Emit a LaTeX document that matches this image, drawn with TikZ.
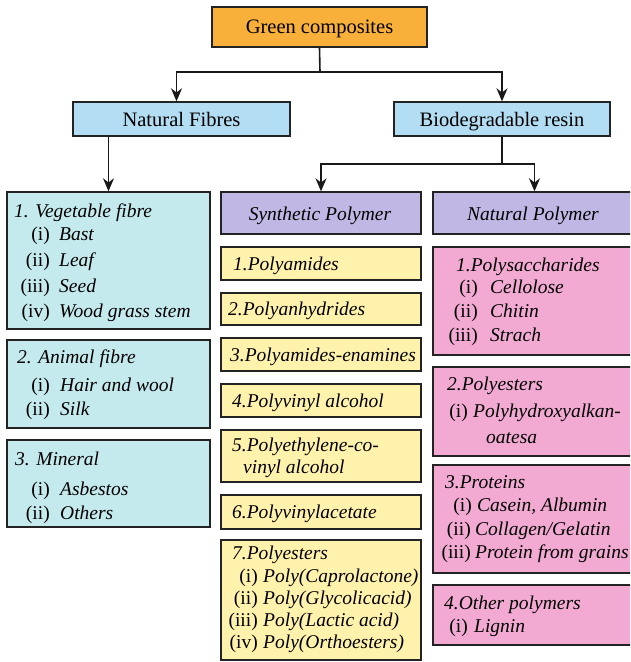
\documentclass[tikz,border=0pt]{standalone}
\usepackage{fontspec}
\setmainfont{Liberation Serif}
\usetikzlibrary{arrows.meta,fit}
\definecolor{cOrange}{RGB}{249,176,58}
\definecolor{cBlue}{RGB}{179,221,242}
\definecolor{cCyan}{RGB}{197,234,238}
\definecolor{cLav}{RGB}{192,183,228}
\definecolor{cYel}{RGB}{255,242,172}
\definecolor{cPink}{RGB}{242,170,210}
\definecolor{cLine}{RGB}{35,35,35}
\begin{document}
\begin{tikzpicture}[x=1pt,y=-1pt,
  box/.style={draw=cLine, line width=1.4pt, inner sep=0pt, rectangle},
  hd/.style={inner sep=0pt, font=\fontsize{20.5}{24}\selectfont},
  hdi/.style={inner sep=0pt, font=\fontsize{19.5}{24}\selectfont\itshape},
  it/.style={anchor=base west, inner sep=0pt, font=\fontsize{19.5}{23}\selectfont\itshape},
  num/.style={anchor=base east, inner sep=0pt, font=\fontsize{19.5}{23}\selectfont},
  conn/.style={line width=1.6pt, draw=black!90},
  arr/.style={conn, -{Stealth[length=13pt,width=11pt]}}]
\clip (0,0) rectangle (630,662);
\fill[white] (0,0) rectangle (630,662);
% top level
\node[box, fill=cOrange, fit={(212,7) (427,47)}] (gc) {};
\node[hd, anchor=base] (gct) at (319.5,33) {Green composites};
\node[box, fill=cBlue, fit={(73,102) (290,136)}] (nf) {};
\node[hd, anchor=base] (nft) at (181.5,126) {Natural Fibres};
\node[box, fill=cBlue, fit={(394,102) (610,136)}] (bio) {};
\node[hd, anchor=base] (biot) at (502,126) {Biodegradable resin};
% left column
\node[box, fill=cCyan, fit={(7,192) (210,329)}] (veg) {};
\node[box, fill=cCyan, fit={(7,340) (210,428)}] (ani) {};
\node[box, fill=cCyan, fit={(7,440) (210,527)}] (min) {};
% middle column
\node[box, fill=cLav, fit={(221,192) (421,234)}] (syn) {};
\node[hdi, anchor=base] (synt) at (320,220) {Synthetic Polymer};
\node[box, fill=cYel, fit={(221,247) (421,280)}] (s1) {};
\node[box, fill=cYel, fit={(221,293) (421,325)}] (s2) {};
\node[box, fill=cYel, fit={(221,338) (421,371)}] (s3) {};
\node[box, fill=cYel, fit={(221,384) (421,417)}] (s4) {};
\node[box, fill=cYel, fit={(221,430) (421,482)}] (s5) {};
\node[box, fill=cYel, fit={(221,495) (421,529)}] (s6) {};
\node[box, fill=cYel, fit={(221,540) (421,660)}] (s7) {};
% right column
\node[box, fill=cLav, fit={(433,192) (633,234)}] (natp) {};
\node[hdi, anchor=base] (natpt) at (533,220) {Natural Polymer};
\node[box, fill=cPink, fit={(433,247) (633,355)}] (n1) {};
\node[box, fill=cPink, fit={(433,367) (633,456)}] (n2) {};
\node[box, fill=cPink, fit={(433,465) (633,573)}] (n3) {};
\node[box, fill=cPink, fit={(433,585) (633,645)}] (n4) {};
% connectors
\coordinate (j1) at (320,72);
\coordinate (j2) at (502,164);
\draw[conn] (gc.south) -- (j1);
\draw[arr] (j1) -| ([xshift=-5pt]nf.north);
\draw[arr] (j1) -| (bio.north);
\draw[arr] (nf.south -| veg.north) -- (veg.north);
\draw[conn] (bio.south) -- (j2);
\draw[arr] (j2) -| (syn.north);
\draw[arr] (j2) -| ([xshift=1.5pt]natp.north);
% left texts
\node[it] (v0) at (14,217) {1. Vegetable fibre};
\node[num] (v1n) at (50,240) {(i)};   \node[it] (v1) at (59,240) {Bast};
\node[num] (v2n) at (50,266) {(ii)};  \node[it] (v2) at (59,266) {Leaf};
\node[num] (v3n) at (50,292) {(iii)}; \node[it] (v3) at (59,292) {Seed};
\node[num] (v4n) at (50,317) {(iv)};  \node[it] (v4) at (59,317) {Wood grass stem};
\node[it] (a0) at (17,363) {2. Animal fibre};
\node[num] (a1n) at (50,391) {(i)};   \node[it] (a1) at (60,391) {Hair and wool};
\node[num] (a2n) at (50,415) {(ii)};  \node[it] (a2) at (60,415) {Silk};
\node[it] (m0) at (15,465) {3. Mineral};
\node[num] (m1n) at (50,495) {(i)};   \node[it] (m1) at (60,495) {Asbestos};
\node[num] (m2n) at (50,519) {(ii)};  \node[it] (m2) at (60,519) {Others};
% middle texts
\node[it] (t1) at (233,270) {1.Polyamides};
\node[it] (t2) at (228,315) {2.Polyanhydrides};
\node[it] (t3) at (230,361) {3.Polyamides-enamines};
\node[it] (t4) at (232,407) {4.Polyvinyl alcohol};
\node[it] (t5a) at (232,451) {5.Polyethylene-co-};
\node[it] (t5b) at (243,473) {vinyl alcohol};
\node[it] (t6) at (232,518) {6.Polyvinylacetate};
\node[it] (t7) at (232,559) {7.Polyesters};
\node[num] (t71n) at (258,582) {(i)};   \node[it] (t71) at (263,582) {Poly(Caprolactone)};
\node[num] (t72n) at (258,604) {(ii)};  \node[it] (t72) at (263,604) {Poly(Glycolicacid)};
\node[num] (t73n) at (258,626) {(iii)}; \node[it] (t73) at (263,626) {Poly(Lactic acid)};
\node[num] (t74n) at (258,648) {(iv)};  \node[it] (t74) at (263,648) {Poly(Orthoesters)};
% right texts
\node[it] (p0) at (456,271) {1.Polysaccharides};
\node[num] (p1n) at (478,293) {(i)};   \node[it] (p1) at (490,293) {Cellolose};
\node[num] (p2n) at (478,317) {(ii)};  \node[it] (p2) at (490,317) {Chitin};
\node[num] (p3n) at (478,341) {(iii)}; \node[it] (p3) at (490,341) {Strach};
\node[it] (q0) at (447,390) {2.Polyesters};
\node[num] (q1n) at (468,417) {(i)};   \node[it] (q1) at (473,417) {Polyhydroxyalkan-};
\node[it] (q2) at (486,443) {oatesa};
\node[it] (r0) at (445,488) {3.Proteins};
\node[num] (r1n) at (472,511) {(i)};   \node[it] (r1) at (477,511) {Casein, Albumin};
\node[num] (r2n) at (471,535) {(ii)};  \node[it] (r2) at (475,535) {Collagen/Gelatin};
\node[num] (r3n) at (471,558) {(iii)}; \node[it] (r3) at (475,558) {Protein from grains};
\node[it] (o0) at (444,609) {4.Other polymers};
\node[num] (o1n) at (468,632) {(i)};   \node[it] (o1) at (474,632) {Lignin};
\end{tikzpicture}
\end{document}
